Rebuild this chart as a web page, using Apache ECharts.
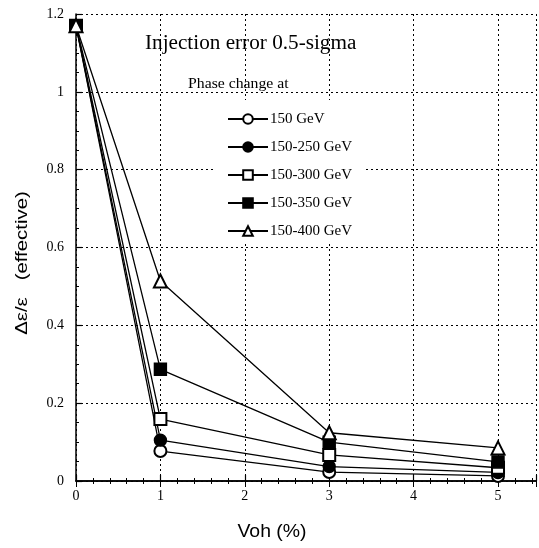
<!DOCTYPE html>
<html><head><meta charset="utf-8">
<script src="https://cdn.jsdelivr.net/npm/echarts@6/dist/echarts.min.js"></script>
<style>html,body{margin:0;padding:0;background:#fff}#c{width:539px;height:548px}</style>
</head><body><div id="c"></div>
<script>
const xValues = [0, 1, 3, 5];
const seriesNames = ['150 GeV', '150-250 GeV', '150-300 GeV', '150-350 GeV', '150-400 GeV'];
const s150 = [1.17, 0.077, 0.023, 0.013];
const s150_250 = [1.17, 0.105, 0.037, 0.022];
const s150_300 = [1.17, 0.159, 0.067, 0.034];
const s150_350 = [1.17, 0.287, 0.100, 0.049];
const s150_400 = [1.17, 0.514, 0.124, 0.085];
const xTicks = [0, 1, 2, 3, 4, 5];
const yTicks = [0, 0.2, 0.4, 0.6, 0.8, 1, 1.2];

const allData = [s150, s150_250, s150_300, s150_350, s150_400];
const symbols = ['emptyCircle', 'circle', 'emptyRect', 'rect', 'emptyTriangle'];
const sizes = [12, 12, 12, 12, 13];
const serif = 'Liberation Serif';

const chart = echarts.init(document.getElementById('c'));
const axisCommon = {
  axisLine: {show: true, onZero: false, lineStyle: {color: '#000', width: 1.5}},
  axisTick: {show: true, inside: true, length: 6, lineStyle: {color: '#000', width: 1.2}},
  minorTick: {show: true, splitNumber: 5, length: 3, lineStyle: {color: '#000', width: 1}},
  splitLine: {show: true, lineStyle: {color: '#000', type: [2, 3], width: 1}},
};
chart.setOption({
  animation: false,
  backgroundColor: '#fff',
  grid: {left: 76, right: 0, top: 14, bottom: 67},
  legend: {
    orient: 'vertical', left: 213, top: 100, itemGap: 12, itemWidth: 40, itemHeight: 12,
    padding: [11, 11, 2, 14],
    backgroundColor: '#fff',
    data: seriesNames,
    textStyle: {fontFamily: serif, fontSize: 15, lineHeight: 16, color: '#000', padding: [0, 0, 0, -3]},
    inactiveColor: '#000'
  },
  xAxis: [{
    type: 'value', min: 0, max: 5.45, interval: 1,
    ...axisCommon,
    axisLabel: {fontFamily: serif, fontSize: 14, color: '#000', margin: 8,
      formatter: v => xTicks.includes(v) ? String(v) : ''}
  }, {
    type: 'value', position: 'top', min: 0, max: 5.45, interval: 1,
    axisLine: {show: true, lineStyle: {color: '#000', width: 1.5}},
    axisTick: {show: true, inside: true, length: 6, lineStyle: {color: '#000'}},
    minorTick: {show: true, splitNumber: 5, length: 3, lineStyle: {color: '#000'}},
    splitLine: {show: false}, axisLabel: {show: false}
  }],
  yAxis: {
    type: 'value', min: 0, max: 1.2, interval: 0.2,
    ...axisCommon,
    minorTick: {show: true, splitNumber: 4, length: 3, lineStyle: {color: '#000', width: 1}},
    axisLabel: {fontFamily: serif, fontSize: 14, color: '#000', margin: 12,
      formatter: v => { const t = yTicks.find(y => Math.abs(y - v) < 1e-6); return t === undefined ? '' : String(t); }}
  },
  graphic: [
    {type: 'text', x: 145, y: 44, scaleX: 1.06, style: {text: 'Injection error 0.5-sigma', font: '20px "Liberation Serif"', fill: '#000', verticalAlign: 'middle'}, z: 10},
    {type: 'text', x: 188, y: 84, scaleX: 1.05, style: {text: 'Phase change at', font: '15px "Liberation Serif"', fill: '#000', verticalAlign: 'middle'}, z: 10},
    {type: 'text', x: 22, y: 263, rotation: Math.PI / 2, scaleX: 1.2, style: {text: 'Δε/ε   (effective)', font: '17px "Liberation Sans"', fill: '#000', align: 'center', verticalAlign: 'middle'}},
    {type: 'text', x: 272, y: 532, scaleX: 1.08, style: {text: 'Voh (%)', font: '18px "Liberation Sans"', fill: '#000', align: 'center', verticalAlign: 'middle'}}
  ],
  series: seriesNames.map((name, i) => ({
    name, type: 'line',
    data: xValues.map((x, j) => [x, allData[i][j]]),
    symbol: symbols[i], symbolSize: sizes[i],
    lineStyle: {color: '#000', width: 1.3},
    itemStyle: {color: '#000', borderColor: '#000', borderWidth: 1.4},
    z: 2 + i
  }))
});
</script></body></html>
